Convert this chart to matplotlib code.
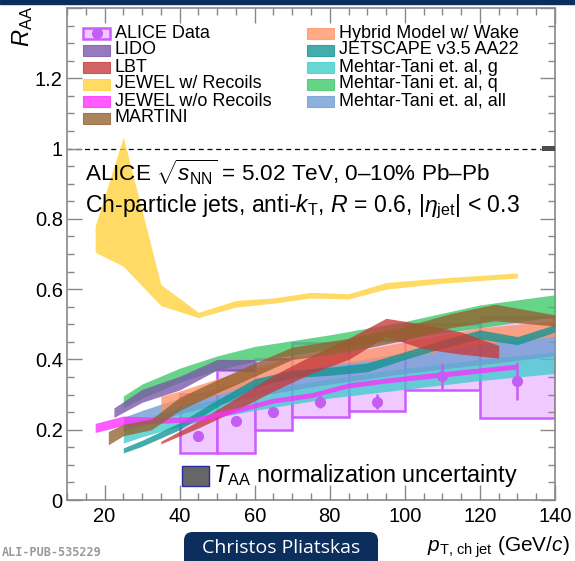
import matplotlib.pyplot as plt
import matplotlib.patches as mpatches
from matplotlib.ticker import MultipleLocator, FuncFormatter
import numpy as np

plt.rcParams['font.family'] = ['Liberation Sans', 'DejaVu Sans']
plt.rcParams['mathtext.fontset'] = 'custom'
plt.rcParams['mathtext.rm'] = 'Liberation Sans'
plt.rcParams['mathtext.it'] = 'Liberation Sans:italic'
plt.rcParams['mathtext.bf'] = 'Liberation Sans:bold'

# ALICE data (R=0.6, 0-10%)
bin_lo = [40, 50, 60, 70, 85, 100, 120]
bin_hi = [50, 60, 70, 85, 100, 120, 140]
data_x = [45, 55, 65, 77.5, 92.5, 110, 130]
data_y = [0.182, 0.225, 0.250, 0.280, 0.280, 0.353, 0.339]
stat_err = [0.008, 0.010, 0.012, 0.018, 0.022, 0.038, 0.055]
sys_lo = [0.134, 0.135, 0.199, 0.237, 0.252, 0.313, 0.233]
sys_hi = [0.301, 0.370, 0.400, 0.447, 0.456, 0.500, 0.522]

# model bands
lido_x = [22.5, 30, 40, 50, 60]
lido_lo = [0.235, 0.278, 0.313, 0.370, 0.365]
lido_hi = [0.262, 0.315, 0.352, 0.400, 0.400]

lbt_x = [35, 45, 55, 65, 75, 85, 95, 105, 115, 125]
lbt_lo = [0.160, 0.205, 0.255, 0.310, 0.360, 0.400, 0.465, 0.430, 0.415, 0.404]
lbt_hi = [0.167, 0.225, 0.290, 0.355, 0.410, 0.460, 0.517, 0.500, 0.478, 0.440]

jewel_x = [17.5, 25, 35, 45, 55, 65, 75, 85, 95, 110, 130]
jewel_rec_lo = [0.705, 0.665, 0.553, 0.519, 0.549, 0.560, 0.575, 0.572, 0.600, 0.617, 0.632]
jewel_rec_hi = [0.779, 1.033, 0.613, 0.534, 0.568, 0.575, 0.591, 0.587, 0.619, 0.632, 0.646]
jewel_norec_lo = [0.192, 0.212, 0.218, 0.223, 0.248, 0.276, 0.291, 0.319, 0.333, 0.350, 0.373]
jewel_norec_hi = [0.218, 0.239, 0.235, 0.238, 0.262, 0.290, 0.305, 0.333, 0.347, 0.365, 0.387]

martini_x = [21, 25, 32.5, 40, 50, 60, 70, 85, 100, 112, 124, 140]
martini_lo = [0.157, 0.183, 0.200, 0.255, 0.305, 0.352, 0.400, 0.422, 0.455, 0.490, 0.510, 0.495]
martini_hi = [0.195, 0.215, 0.230, 0.292, 0.342, 0.390, 0.435, 0.460, 0.494, 0.530, 0.557, 0.527]

hybrid_x = [35, 40, 50, 60, 70, 85, 100, 120, 140]
hybrid_lo = [0.250, 0.270, 0.300, 0.330, 0.370, 0.390, 0.405, 0.445, 0.465]
hybrid_hi = [0.295, 0.310, 0.345, 0.375, 0.405, 0.420, 0.450, 0.490, 0.510]

jetscape_x = [25, 30, 40, 50, 60, 70, 80, 90, 100, 110, 120, 130, 140]
jetscape_lo = [0.134, 0.153, 0.200, 0.265, 0.320, 0.348, 0.355, 0.365, 0.400, 0.432, 0.458, 0.442, 0.478]
jetscape_hi = [0.148, 0.170, 0.220, 0.285, 0.345, 0.370, 0.378, 0.390, 0.422, 0.455, 0.484, 0.465, 0.499]

mt_x = [25, 30, 40, 50, 60, 80, 100, 120, 140]
mt_g_lo = [0.162, 0.180, 0.210, 0.235, 0.255, 0.290, 0.315, 0.340, 0.360]
mt_g_hi = [0.210, 0.228, 0.262, 0.288, 0.310, 0.345, 0.375, 0.400, 0.422]
mt_q_lo = [0.262, 0.290, 0.335, 0.370, 0.395, 0.430, 0.460, 0.490, 0.522]
mt_q_hi = [0.296, 0.330, 0.375, 0.410, 0.437, 0.470, 0.508, 0.555, 0.584]
mt_all_lo = [0.195, 0.212, 0.245, 0.272, 0.295, 0.330, 0.360, 0.385, 0.410]
mt_all_hi = [0.235, 0.255, 0.290, 0.320, 0.345, 0.385, 0.420, 0.450, 0.475]

taa_unc = 0.008

fig = plt.figure(figsize=(5.75, 5.61), dpi=100)
ax = fig.add_axes([67/575, 1 - 500/561, 488/575, 492/561])

# systematic boxes of the data
ax.bar(bin_lo, np.array(sys_hi) - np.array(sys_lo), bottom=sys_lo,
       width=np.array(bin_hi) - np.array(bin_lo), align='edge',
       facecolor='#efc9ff', edgecolor='#cc5cff', linewidth=1.8, zorder=1)

# bands, bottom to top
bands = [
    ('Mehtar-Tani et. al, g', mt_x, mt_g_lo, mt_g_hi, '#40cccc'),
    ('Mehtar-Tani et. al, all', mt_x, mt_all_lo, mt_all_hi, '#6e9cd2'),
    ('Mehtar-Tani et. al, q', mt_x, mt_q_lo, mt_q_hi, '#3cc868'),
    ('Hybrid Model w/ Wake', hybrid_x, hybrid_lo, hybrid_hi, '#ff9466'),
    ('JETSCAPE v3.5 AA22', jetscape_x, jetscape_lo, jetscape_hi, '#109494'),
    ('LBT', lbt_x, lbt_lo, lbt_hi, '#c43a3a'),
    ('JEWEL w/o Recoils', jewel_x, jewel_norec_lo, jewel_norec_hi, '#ff2eff'),
    ('LIDO', lido_x, lido_lo, lido_hi, '#7a55a8'),
    ('MARTINI', martini_x, martini_lo, martini_hi, '#93612f'),
    ('JEWEL w/ Recoils', jewel_x, jewel_rec_lo, jewel_rec_hi, '#ffd23a'),
]
band_color = {}
for i, (name, x, lo, hi, col) in enumerate(bands):
    ax.fill_between(x, lo, hi, color=col, alpha=0.78, linewidth=0, zorder=2 + i)
    band_color[name] = col

ax.errorbar(data_x, data_y, yerr=stat_err, fmt='o', ms=7, color='#c25ef2',
            elinewidth=1.8, capsize=0, zorder=20)

ax.axhline(1, color='black', lw=0.9, ls=(0, (4, 3)), zorder=1)
ax.bar(138.25, 2 * taa_unc, bottom=1 - taa_unc, width=3.5, color='#4d4d4d', zorder=3)

ax.set_xlim(10, 140)
ax.set_ylim(0, 1.4)
ax.xaxis.set_major_locator(MultipleLocator(20))
ax.xaxis.set_minor_locator(MultipleLocator(5))
ax.yaxis.set_major_locator(MultipleLocator(0.2))
ax.yaxis.set_minor_locator(MultipleLocator(0.05))
ax.yaxis.set_major_formatter(FuncFormatter(lambda v, _: '' if v > 1.3 else f'{v:g}'))
ax.tick_params(which='both', direction='in', top=True, right=True,
               color='#888888', width=1.0, labelsize=14.5)
ax.tick_params(which='major', length=10.5)
ax.tick_params(which='minor', length=5)
ax.tick_params(axis='y', pad=3)
ax.tick_params(axis='x', pad=5)
for s in ax.spines.values():
    s.set_color('#888888')
    s.set_linewidth(1.2)

# legend, built by hand like the ROOT one
def px_to_ax(px, py):
    return (px - 67) / 488, (500 - py) / 492

rows = [37.5, 54.5, 71.5, 88.5, 105.5, 122.5]
left_labels = ['ALICE Data', 'LIDO', 'LBT', 'JEWEL w/ Recoils', 'JEWEL w/o Recoils', 'MARTINI']
right_labels = ['Hybrid Model w/ Wake', 'JETSCAPE v3.5 AA22', 'Mehtar-Tani et. al, g',
                'Mehtar-Tani et. al, q', 'Mehtar-Tani et. al, all']
sw_w, sw_h = 27 / 488, 11.5 / 492
for col_px, labels in [(83, left_labels), (307, right_labels)]:
    for i, lab in enumerate(labels):
        x0, yb = px_to_ax(col_px, rows[i])
        if lab == 'ALICE Data':
            ax.add_patch(mpatches.Rectangle((x0, yb - 1.7 / 492), sw_w, sw_h, transform=ax.transAxes,
                                            facecolor='#efc9ff', edgecolor='#cc5cff', lw=1.8, zorder=30))
            ax.plot([x0 + sw_w / 2], [yb - 1.7 / 492 + sw_h / 2], 'o', ms=7, color='#c25ef2',
                    transform=ax.transAxes, zorder=31)
        else:
            ax.add_patch(mpatches.Rectangle((x0, yb - 1.7 / 492), sw_w, sw_h, transform=ax.transAxes,
                                            facecolor=band_color[lab], alpha=0.78,
                                            edgecolor=band_color[lab], lw=0.8, zorder=30))
        ax.text(x0 + 32 / 488, yb, lab, transform=ax.transAxes, fontsize=13,
                va='baseline', ha='left', zorder=31)

ax.text(*px_to_ax(85, 181.7), r'ALICE $\sqrt{s_{\rm NN}}$ = 5.02 TeV, 0–10% Pb–Pb',
        transform=ax.transAxes, fontsize=16.2, va='baseline', zorder=40)
ax.text(*px_to_ax(85, 211.7), r'Ch-particle jets, anti-$k_{\rm T}$, $R$ = 0.6, $|\eta_{\rm jet}|$ < 0.3',
        transform=ax.transAxes, fontsize=16.6, va='baseline', zorder=40)

# T_AA legend
tx, ty = px_to_ax(182, 486)
ax.add_patch(mpatches.Rectangle((tx, ty), 27 / 488, 20 / 492, transform=ax.transAxes,
                                facecolor='#666666', edgecolor='#2a2aa0', lw=1.0, zorder=30))
ax.text(*px_to_ax(213, 482), r'$T_{\rm AA}$ normalization uncertainty', transform=ax.transAxes,
        fontsize=16.8, va='baseline', zorder=40)

fig.text(23 / 575, 1 - 6 / 561, r'$R_{\rm AA}$', rotation=90, fontsize=17, ha='center', va='top')
fig.text(570 / 575, 1 - 552 / 561, r'$p_{\rm T,\,ch\;jet}$ (GeV/$c$)', fontsize=15,
         ha='right', va='baseline')

fig.add_artist(mpatches.Rectangle((0, 1 - 3.5 / 561), 1, 3.5 / 561, transform=fig.transFigure,
                                  color='#0b2e5c'))
fig.add_artist(mpatches.FancyBboxPatch((184 / 575, -0.03), 194 / 575, 29 / 561 + 0.03,
                                       boxstyle='round,pad=0,rounding_size=0.015',
                                       transform=fig.transFigure, facecolor='#0b2e5c',
                                       edgecolor='none'))
fig.text(281 / 575, 1 - 548 / 561, 'Christos Pliatskas', color='white', fontsize=14,
         family='Open Sans', ha='center', va='center')
fig.text(2 / 575, 1 - 556 / 561, 'ALI-PUB-535229', family='DejaVu Sans Mono', fontsize=8.5,
         color='#9a9a9a', weight='bold', va='baseline')

fig.savefig('out.png', dpi=100)
